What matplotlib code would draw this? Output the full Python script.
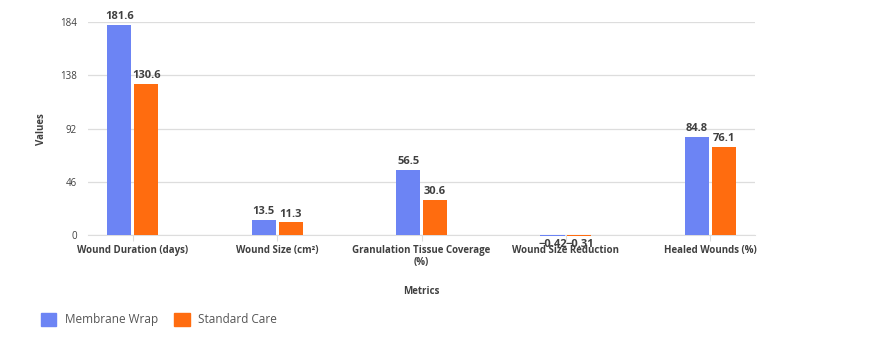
import matplotlib.pyplot as plt
from matplotlib.patches import Patch
import numpy as np

plt.rcParams['font.family'] = ['Open Sans', 'DejaVu Sans']

categories = ['Wound Duration (days)', 'Wound Size (cm\u00b2)',
              'Granulation Tissue Coverage\n(%)', 'Wound Size Reduction',
              'Healed Wounds (%)']
membrane_wrap = [181.6, 13.5, 56.5, -0.42, 84.8]
standard_care = [130.6, 11.3, 30.6, -0.31, 76.1]
yticks = [0, 46, 92, 138, 184]

blue = '#6C84F4'
orange = '#FF6C0F'
text_col = '#404040'

fig = plt.figure(figsize=(8.71, 3.42), dpi=100)
ax = fig.add_axes([0.101, 0.31, 0.766, 0.626])

x = np.arange(len(categories))
w = 0.167
off = 0.093

b1 = ax.bar(x - off, membrane_wrap, w, color=blue, zorder=3)
b2 = ax.bar(x + off, standard_care, w, color=orange, zorder=3)

for bars, vals in ((b1, membrane_wrap), (b2, standard_care)):
    for b, v in zip(bars, vals):
        cx = b.get_x() + b.get_width() / 2
        if v >= 0:
            ax.annotate(f'{v:g}', (cx, v), xytext=(0, 2), textcoords='offset points',
                        ha='center', va='bottom', fontsize=8, fontweight='bold',
                        color=text_col)
        else:
            ax.annotate(f'\u2212{abs(v):g}', (cx, v), xytext=(0, -2), textcoords='offset points',
                        ha='center', va='top', fontsize=8, fontweight='bold',
                        color=text_col, zorder=5)

# move the bottom spine first: this resets the tick objects
for s in ['top', 'right', 'left']:
    ax.spines[s].set_visible(False)
ax.spines['bottom'].set_color('#dddddd')
ax.spines['bottom'].set_position(('data', 0))

ax.set_ylim(-0.5, 184)
ax.set_xlim(-0.31, 4.31)
ax.set_yticks(yticks)
ax.set_yticklabels([str(t) for t in yticks], fontsize=7, color=text_col)
ax.set_xticks(x)
ax.set_xticklabels(categories, fontsize=7, fontweight='bold', color=text_col,
                   linespacing=1.1)
ax.grid(axis='y', color='#dddddd', linewidth=0.9, zorder=0)
ax.tick_params(axis='y', length=0, pad=8)
ax.tick_params(axis='x', length=4, color='#dddddd', pad=3)

ax.set_ylabel('Values', fontsize=7, fontweight='bold', color=text_col, labelpad=9)
ax.set_xlabel('Metrics', fontsize=7, fontweight='bold', color=text_col, labelpad=13)

handles = [Patch(color=blue, label='Membrane Wrap'),
           Patch(color=orange, label='Standard Care')]
fig.legend(handles=handles, loc='center left', bbox_to_anchor=(0.035, 0.065),
           ncol=2, frameon=False, fontsize=8.5, handlelength=1.3, handleheight=1.3,
           handletextpad=0.7, columnspacing=1.4, labelcolor='#555555')

fig.savefig('out.png', dpi=100)
